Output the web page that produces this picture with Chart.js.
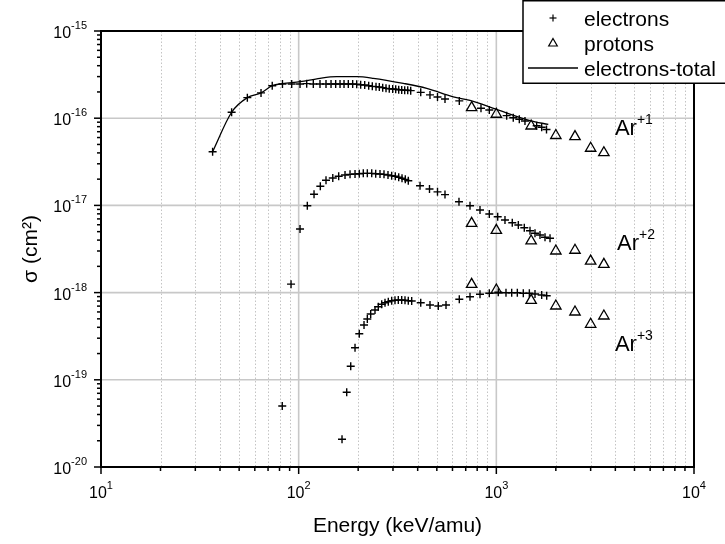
<!DOCTYPE html>
<html>
<head>
<meta charset="utf-8">
<script src="https://cdn.jsdelivr.net/npm/chart.js@4/dist/chart.umd.min.js"></script>
<style>
html, body { margin: 0; padding: 0; background: #fff; }
#wrap { width: 725px; height: 544px; }
</style>
</head>
<body>
<div id="wrap"><canvas id="chart" width="725" height="544"></canvas></div>
<script>
// energies in keV/amu, cross sections in cm^2
const ar1ElecE = [36.7, 45.8, 55.0, 64.5, 73.5, 82.8, 92.2, 101.6, 109.8, 118.6,
    128.2, 137.5, 145.8, 153.9, 161.9, 169.6, 178.3, 187.6, 196.6, 205.9,
    215.8, 226.1, 235.8, 246.2, 255.8, 266.1, 276.6, 287.3, 299.0, 309.7,
    320.7, 332.1, 343.9, 356.2, 368.8, 414.5, 461.7, 503.9, 549.9, 649.6,
    836.3, 921.3, 1128, 1218, 1307, 1396, 1600, 1696, 1794];
const ar1ElecS = [4.13e-17, 1.17e-16, 1.72e-16, 1.95e-16, 2.36e-16, 2.47e-16, 2.47e-16, 2.47e-16, 2.49e-16, 2.47e-16,
    2.47e-16, 2.47e-16, 2.47e-16, 2.47e-16, 2.47e-16, 2.47e-16, 2.47e-16, 2.47e-16, 2.45e-16, 2.42e-16,
    2.40e-16, 2.36e-16, 2.32e-16, 2.30e-16, 2.28e-16, 2.24e-16, 2.20e-16, 2.18e-16, 2.16e-16, 2.15e-16,
    2.12e-16, 2.11e-16, 2.09e-16, 2.09e-16, 2.07e-16, 1.98e-16, 1.85e-16, 1.75e-16, 1.66e-16, 1.58e-16,
    1.30e-16, 1.24e-16, 1.07e-16, 1.01e-16, 9.71e-17, 9.29e-17, 8.20e-17, 7.86e-17, 7.42e-17];

const ar2ElecE = [82.6, 91.5, 101.6, 110.6, 119.6, 128.7, 137.5, 148.8, 159.4, 171.6,
    181.9, 192.8, 202.6, 212.3, 222.5, 234.2, 245.3, 257.9, 270.2, 283.1,
    295.5, 308.2, 320.7, 333.3, 346.3, 358.6, 411.1, 459.1, 503.9, 549.9,
    647.2, 735.9, 826.7, 921.3, 1016, 1106, 1204, 1292, 1385, 1480,
    1569, 1663, 1763, 1869];
const ar2ElecS = [5.0e-20, 1.25e-18, 5.36e-18, 9.92e-18, 1.34e-17, 1.66e-17, 1.94e-17, 2.06e-17, 2.16e-17, 2.23e-17,
    2.27e-17, 2.29e-17, 2.31e-17, 2.33e-17, 2.33e-17, 2.33e-17, 2.31e-17, 2.29e-17, 2.27e-17, 2.23e-17,
    2.19e-17, 2.16e-17, 2.10e-17, 2.05e-17, 1.99e-17, 1.92e-17, 1.68e-17, 1.54e-17, 1.43e-17, 1.33e-17,
    1.10e-17, 9.92e-18, 8.86e-18, 7.97e-18, 7.42e-18, 6.80e-18, 6.33e-18, 5.96e-18, 5.55e-18, 5.13e-18,
    4.79e-18, 4.58e-18, 4.31e-18, 4.20e-18];

const ar3ElecE = [165.7, 175.0, 183.4, 192.8, 202.6, 214.1, 222.5, 231.4, 243.3, 252.8,
    263.1, 273.4, 284.1, 295.5, 307.1, 319.2, 332.1, 345.1, 358.6, 373.1,
    414.5, 461.7, 508.6, 556.4, 649.6, 735.9, 826.7, 921.3, 1023, 1119,
    1196, 1277, 1369, 1469, 1569, 1696, 1798];
const ar3ElecS = [2.08e-20, 7.19e-20, 1.43e-19, 2.33e-19, 3.38e-19, 4.25e-19, 4.98e-19, 5.68e-19, 6.32e-19, 6.89e-19,
    7.34e-19, 7.66e-19, 7.86e-19, 8.07e-19, 8.16e-19, 8.22e-19, 8.22e-19, 8.16e-19, 8.07e-19, 8.01e-19,
    7.66e-19, 7.21e-19, 7.02e-19, 7.21e-19, 8.38e-19, 8.97e-19, 9.56e-19, 9.82e-19, 1.01e-18, 9.97e-19,
    9.97e-19, 9.97e-19, 9.82e-19, 9.82e-19, 9.63e-19, 9.38e-19, 9.21e-19];

const protonE = [750, 1000, 1500, 2000, 2500, 3000, 3500];
const ar1ProtS = [1.32e-16, 1.11e-16, 8.14e-17, 6.33e-17, 6.14e-17, 4.52e-17, 4.02e-17];
const ar2ProtS = [6.23e-18, 5.18e-18, 3.91e-18, 3.00e-18, 3.06e-18, 2.30e-18, 2.11e-18];
const ar3ProtS = [1.245e-18, 1.07e-18, 8.16e-19, 7.02e-19, 5.99e-19, 4.33e-19, 5.39e-19];

const totalE = [36.7, 45.8, 55.0, 64.5, 73.5, 82.8, 101.6, 128.2, 155.7, 196.6,
    238.6, 338.4, 444.4, 605.7, 735.9, 1004, 1480, 1832];
const totalS = [4.13e-17, 1.17e-16, 1.72e-16, 1.95e-16, 2.36e-16, 2.49e-16, 2.62e-16, 2.87e-16, 2.99e-16, 2.99e-16,
    2.87e-16, 2.51e-16, 2.20e-16, 1.76e-16, 1.60e-16, 1.26e-16, 9.41e-17, 8.47e-17];

// axis decades (exponents used for the tick labels)
const xExponents = [1, 2, 3, 4];
const yExponents = [-15, -16, -17, -18, -19, -20];
const ionLabels = [
    { ion: 'Ar', charge: '+1', e: 3980, s: 6.4e-17 },
    { ion: 'Ar', charge: '+2', e: 4080, s: 3.1e-18 },
    { ion: 'Ar', charge: '+3', e: 3980, s: 2.15e-19 }
];

const FONT = '"Liberation Sans", Arial, Helvetica, sans-serif';

function pts(xs, ys) {
    return xs.map((x, i) => ({ x: x, y: ys[i] }));
}

function crossSet(xs, ys) {
    return {
        data: pts(xs, ys),
        showLine: false,
        pointStyle: 'cross',
        pointRadius: 4,
        pointBorderWidth: 1.4,
        pointBorderColor: '#000',
        pointBackgroundColor: '#000'
    };
}

function triSet(xs, ys) {
    return {
        data: pts(xs, ys),
        showLine: false,
        pointStyle: 'triangle',
        pointRadius: 6,
        pointBorderWidth: 1.3,
        pointBorderColor: '#000',
        pointBackgroundColor: 'rgba(0,0,0,0)'
    };
}

function powText(ctx, base, sup, x, y, align, size, supSize, rise) {
    ctx.font = size + 'px ' + FONT;
    const wb = ctx.measureText(base).width;
    ctx.font = supSize + 'px ' + FONT;
    const ws = ctx.measureText(sup).width;
    let x0 = x;
    if (align === 'right') x0 = x - wb - ws;
    if (align === 'center') x0 = x - (wb + ws) / 2;
    ctx.textAlign = 'left';
    ctx.textBaseline = 'alphabetic';
    ctx.font = size + 'px ' + FONT;
    ctx.fillText(base, x0, y);
    ctx.font = supSize + 'px ' + FONT;
    ctx.fillText(sup, x0 + wb, y - rise);
}

function seg(ctx, x1, y1, x2, y2) {
    ctx.beginPath();
    ctx.moveTo(x1, y1);
    ctx.lineTo(x2, y2);
    ctx.stroke();
}

const axesPlugin = {
    id: 'axesPlugin',
    beforeDatasetsDraw(chart) {
        const { ctx, chartArea: a, scales: { x, y } } = chart;
        ctx.save();
        // dotted minor verticals
        ctx.strokeStyle = '#c4c4c4';
        ctx.lineWidth = 1;
        ctx.setLineDash([1.5, 2]);
        xExponents.slice(0, -1).forEach(p => {
            for (let m = 2; m <= 9; m++) {
                const px = Math.round(x.getPixelForValue(m * Math.pow(10, p))) + 0.5;
                seg(ctx, px, a.top, px, a.bottom);
            }
        });
        ctx.setLineDash([]);
        // solid decade lines
        ctx.strokeStyle = '#c8c8c8';
        ctx.lineWidth = 1.6;
        xExponents.slice(1, -1).forEach(p => {
            const px = x.getPixelForValue(Math.pow(10, p));
            seg(ctx, px, a.top, px, a.bottom);
        });
        yExponents.slice(1, -1).forEach(p => {
            const py = y.getPixelForValue(Math.pow(10, p));
            seg(ctx, a.left, py, a.right, py);
        });
        ctx.restore();
    },
    afterDatasetsDraw(chart) {
        const { ctx, chartArea: a, scales: { x, y } } = chart;
        ctx.save();
        ctx.strokeStyle = '#000';
        ctx.fillStyle = '#000';
        // frame
        ctx.lineWidth = 2;
        ctx.strokeRect(a.left, a.top, a.right - a.left, a.bottom - a.top);
        // ticks
        ctx.lineWidth = 1.5;
        xExponents.forEach((p, i) => {
            const px = x.getPixelForValue(Math.pow(10, p));
            seg(ctx, px, a.bottom, px, a.bottom + 7);
            if (i < xExponents.length - 1) {
                for (let m = 2; m <= 9; m++) {
                    const mx = x.getPixelForValue(m * Math.pow(10, p));
                    seg(ctx, mx, a.bottom, mx, a.bottom + 4);
                }
            }
        });
        yExponents.forEach((p, i) => {
            const py = y.getPixelForValue(Math.pow(10, p));
            seg(ctx, a.left - 7, py, a.left, py);
            if (i > 0) {
                for (let m = 2; m <= 9; m++) {
                    const my = y.getPixelForValue(m * Math.pow(10, p));
                    seg(ctx, a.left - 4, my, a.left, my);
                }
            }
        });
        // tick labels
        xExponents.forEach(p => {
            const px = x.getPixelForValue(Math.pow(10, p));
            powText(ctx, '10', String(p), px, a.bottom + 31, 'center', 16, 11, 9);
        });
        yExponents.forEach(p => {
            const py = y.getPixelForValue(Math.pow(10, p));
            powText(ctx, '10', String(p), a.left - 14, py + 7, 'right', 16, 11, 9);
        });
        // axis titles
        ctx.font = '21px ' + FONT;
        ctx.textAlign = 'center';
        ctx.textBaseline = 'alphabetic';
        ctx.fillText('Energy (keV/amu)', (a.left + a.right) / 2, a.bottom + 65);
        ctx.save();
        ctx.translate(37, (a.top + a.bottom) / 2);
        ctx.rotate(-Math.PI / 2);
        ctx.fillText('\u03c3 (cm\u00b2)', 0, 0);
        ctx.restore();
        // ion labels
        ionLabels.forEach(l => {
            powText(ctx, l.ion, l.charge, x.getPixelForValue(l.e), y.getPixelForValue(l.s), 'left', 22, 14, 11);
        });
        ctx.restore();
    },
    afterDraw(chart) {
        const { ctx } = chart;
        ctx.save();
        // legend box
        ctx.fillStyle = '#fff';
        ctx.fillRect(523, 1, 210, 82);
        ctx.strokeStyle = '#000';
        ctx.lineWidth = 1.5;
        ctx.strokeRect(523, 0.75, 210, 82.5);
        ctx.lineWidth = 1.2;
        seg(ctx, 549.5, 18, 556.5, 18);
        seg(ctx, 553, 14.5, 553, 21.5);
        ctx.beginPath();
        ctx.moveTo(553, 38.5);
        ctx.lineTo(557.3, 46);
        ctx.lineTo(548.7, 46);
        ctx.closePath();
        ctx.stroke();
        ctx.lineWidth = 1.3;
        seg(ctx, 528, 68, 578, 68);
        ctx.fillStyle = '#000';
        ctx.font = '21px ' + FONT;
        ctx.textAlign = 'left';
        ctx.textBaseline = 'alphabetic';
        ctx.fillText('electrons', 584, 26);
        ctx.fillText('protons', 584, 51);
        ctx.fillText('electrons-total', 584, 76);
        ctx.restore();
    }
};

new Chart(document.getElementById('chart'), {
    type: 'scatter',
    data: {
        datasets: [
            crossSet(ar1ElecE, ar1ElecS),
            crossSet(ar2ElecE, ar2ElecS),
            crossSet(ar3ElecE, ar3ElecS),
            triSet(protonE, ar1ProtS),
            triSet(protonE, ar2ProtS),
            triSet(protonE, ar3ProtS),
            {
                data: pts(totalE, totalS),
                showLine: true,
                borderColor: '#000',
                borderWidth: 1.3,
                pointRadius: 0,
                cubicInterpolationMode: 'monotone'
            }
        ]
    },
    options: {
        responsive: false,
        animation: false,
        layout: { padding: { left: 101, top: 31, right: 31, bottom: 77 } },
        plugins: { legend: { display: false }, tooltip: { enabled: false } },
        scales: {
            x: { type: 'logarithmic', min: 10, max: 10000, display: false },
            y: { type: 'logarithmic', min: 1e-20, max: 1e-15, display: false }
        }
    },
    plugins: [axesPlugin]
});
</script>
</body>
</html>
